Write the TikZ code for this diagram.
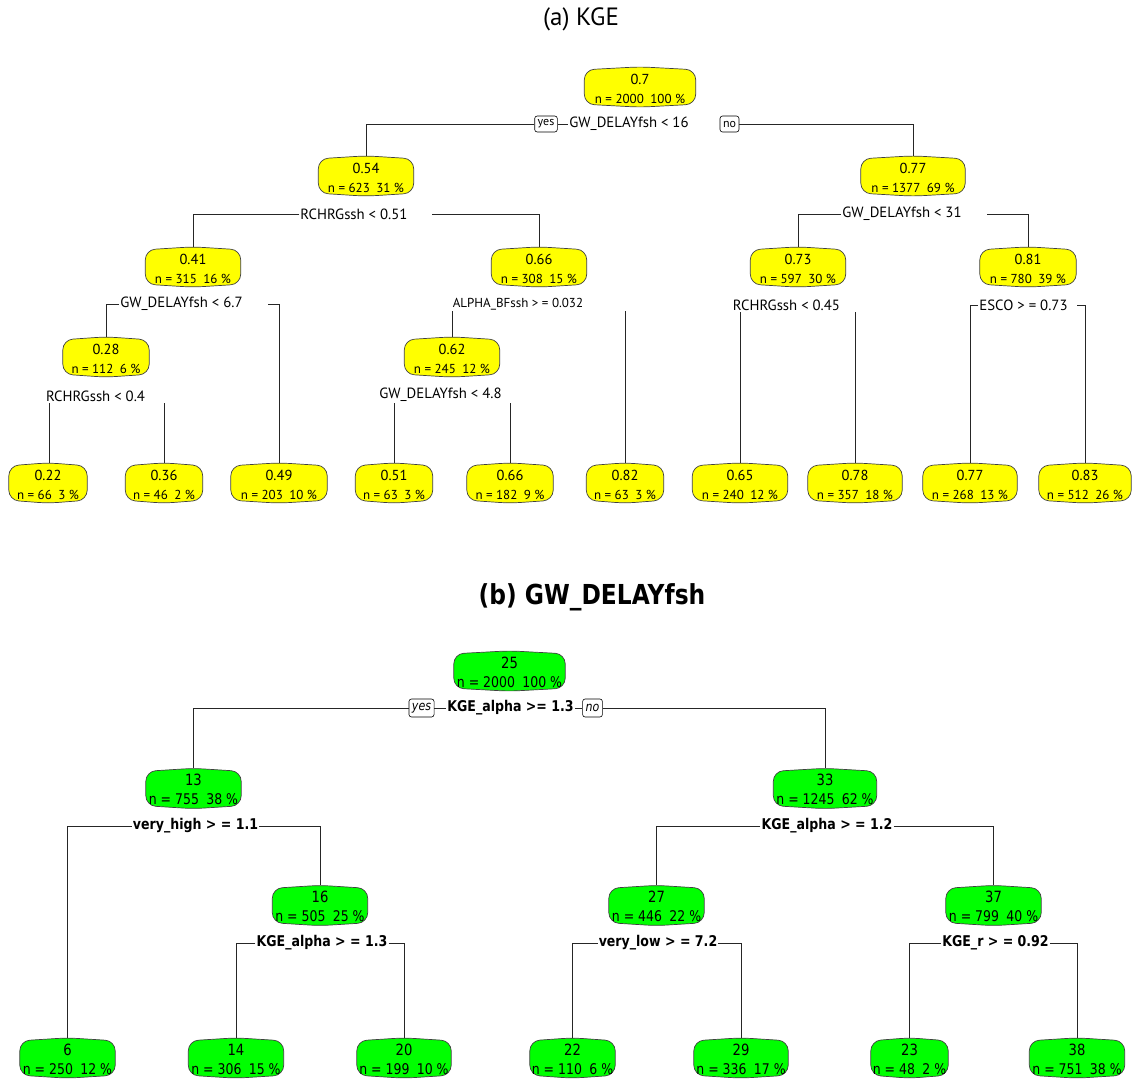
\documentclass[tikz,border=0pt]{standalone}
\usepackage{fontspec}
\usetikzlibrary{calc}
\newfontfamily\topfont{PT Sans}
\newfontfamily\botfont[FakeStretch=0.85]{DejaVu Sans}
\definecolor{ybg}{RGB}{255,255,0}
\definecolor{gbg}{RGB}{0,255,0}
\newcommand\nodetxt[2]{{\fontsize{14.5}{16}\selectfont\rule{0pt}{14pt}#1}\\[5pt]#2}
\newcommand\gnodetxt[2]{{\fontsize{15.5}{17}\selectfont\rule{0pt}{14pt}#1}\\[3pt]#2}
\pgfdeclarelayer{bg}
\pgfsetlayers{bg,main}
\begin{document}
\begin{tikzpicture}[x=1pt,y=-1pt,
  ybox/.style={minimum height=40pt, inner sep=0pt, align=center, font=\topfont\fontsize{13}{14}\selectfont},
  gbox/.style={minimum height=40pt, inner sep=0pt, align=center, font=\botfont\fontsize{14.7}{16}\selectfont},
  barrel/.style={draw=black!75, line width=0.7pt, rounded corners=10pt},
  slab/.style={font=\topfont\fontsize{14.8}{16}\selectfont, inner sep=1pt},
  sslab/.style={font=\topfont\fontsize{13}{14}\selectfont, inner sep=1pt},
  blab/.style={font=\botfont\bfseries\fontsize{14.8}{16}\selectfont, inner sep=1pt},
  yn/.style={draw, fill=white, rounded corners=2.5pt, line width=0.6pt, inner xsep=3pt, inner ysep=1.5pt, minimum height=16pt, font=\topfont\fontsize{12}{13}\selectfont},
  byn/.style={draw, fill=white, rounded corners=2.5pt, line width=0.6pt, inner xsep=3pt, inner ysep=1.5pt, minimum height=18pt, font=\botfont\itshape\fontsize{13}{14}\selectfont},
  edge/.style={draw=black!85, line width=0.75pt}]
\useasboundingbox (0,0) rectangle (1132,1079);

% ---------- (a) KGE ----------
\node (ta) at (581,19) {\topfont\fontsize{25}{28}\selectfont (a) KGE};

\node[ybox, minimum width=111pt] (a0) at (640,87) {\nodetxt{0.7}{n = 2000\enspace 100 \%}};
\node[ybox, minimum width=95pt] (a1) at (366,176) {\nodetxt{0.54}{n = 623\enspace 31 \%}};
\node[ybox, minimum width=104pt] (a2) at (913,176) {\nodetxt{0.77}{n = 1377\enspace 69 \%}};
\node[ybox, minimum width=95pt] (a3) at (193,267) {\nodetxt{0.41}{n = 315\enspace 16 \%}};
\node[ybox, minimum width=95pt] (a4) at (539,267) {\nodetxt{0.66}{n = 308\enspace 15 \%}};
\node[ybox, minimum width=95pt] (a5) at (798,267) {\nodetxt{0.73}{n = 597\enspace 30 \%}};
\node[ybox, minimum width=96pt] (a6) at (1028,267) {\nodetxt{0.81}{n = 780\enspace 39 \%}};
\node[ybox, minimum width=86pt] (a7) at (106,357) {\nodetxt{0.28}{n = 112\enspace 6 \%}};
\node[ybox, minimum width=95pt] (a8) at (452,357) {\nodetxt{0.62}{n = 245\enspace 12 \%}};

\node[ybox, minimum width=78pt] (l1) at (48,483) {\nodetxt{0.22}{n = 66\enspace 3 \%}};
\node[ybox, minimum width=77pt] (l2) at (164,483) {\nodetxt{0.36}{n = 46\enspace 2 \%}};
\node[ybox, minimum width=96pt] (l3) at (279,483) {\nodetxt{0.49}{n = 203\enspace 10 \%}};
\node[ybox, minimum width=77pt] (l4) at (394,483) {\nodetxt{0.51}{n = 63\enspace 3 \%}};
\node[ybox, minimum width=86pt] (l5) at (510,483) {\nodetxt{0.66}{n = 182\enspace 9 \%}};
\node[ybox, minimum width=77pt] (l6) at (625,483) {\nodetxt{0.82}{n = 63\enspace 3 \%}};
\node[ybox, minimum width=95pt] (l7) at (740,483) {\nodetxt{0.65}{n = 240\enspace 12 \%}};
\node[ybox, minimum width=94pt] (l8) at (855,483) {\nodetxt{0.78}{n = 357\enspace 18 \%}};
\node[ybox, minimum width=94pt] (l9) at (970,483) {\nodetxt{0.77}{n = 268\enspace 13 \%}};
\node[ybox, minimum width=92pt] (l10) at (1085,483) {\nodetxt{0.83}{n = 512\enspace 26 \%}};

\begin{pgfonlayer}{bg}
\foreach \X in {a0,a1,a2,a3,a4,a5,a6,a7,a8,l1,l2,l3,l4,l5,l6,l7,l8,l9,l10}{
  \path[barrel, fill=ybg] ($(\X.north west)+(0,3)$) -- (\X.north) -- ($(\X.north east)+(0,3)$) -- ($(\X.south east)+(0,-3)$) -- (\X.south) -- ($(\X.south west)+(0,-3)$) -- cycle;
}
\end{pgfonlayer}

% split labels
\node[slab] (as0) at (629,124) {GW\_DELAYfsh < 16};
\node[yn] (ayes) at (546,124) {yes};
\node[yn] (ano) at (729.5,124) {no};
\node[slab] (as1) at (354,214) {RCHRGssh < 0.51};
\coordinate (as1r) at (432,214);
\node[slab] (as2) at (902,214) {GW\_DELAYfsh < 31};
\coordinate (as2r) at (987,214);
\node[slab] (as3) at (181.5,304) {GW\_DELAYfsh < 6.7};
\coordinate (as3r) at (268,304);
\node[sslab] (as4) at (518,304) {ALPHA\_BFssh > = 0.032};
\node[slab] (as5) at (786.5,305) {RCHRGssh < 0.45};
\node[slab] (as6) at (1023.5,305) {ESCO > = 0.73};
\coordinate (as6r) at (1077,305);
\node[slab] (as7) at (95.5,396) {RCHRGssh < 0.4};
\node[slab] (as8) at (440.5,395) {GW\_DELAYfsh < 4.8};

% connectors
\draw[edge] (ayes.west) -| (a1.north);
\draw[edge] (ayes.east) -- (as0.west);
\draw[edge] (ano.east) -| (a2.north);
\draw[edge] (as1.west) -| (a3.north);
\draw[edge] (as1r) -| (a4.north);
\draw[edge] (as2.west) -| (a5.north);
\draw[edge] (as2r) -| (a6.north);
\draw[edge] (as3.west) -| (a7.north);
\draw[edge] (as3r) -| (l3.north);
\draw[edge] (a8.north) -- (a8.north |- as4.south);
\draw[edge] (l6.north) -- (l6.north |- as4.south);
\draw[edge] (l7.north) -- (l7.north |- as5.south);
\draw[edge] (l8.north) -- (l8.north |- as5.south);
\draw[edge] (as6.west) -| (l9.north);
\draw[edge] (as6r) -| (l10.north);
\draw[edge] ([xshift=1pt]l1.north) -- ([xshift=1pt]l1.north |- as7.south);
\draw[edge] (l2.north) -- (l2.north |- as7.south);
\draw[edge] (l4.north) -- (l4.north |- as8.south);
\draw[edge] (l5.north) -- (l5.north |- as8.south);

% ---------- (b) GW_DELAYfsh ----------
\node (tb) at (592,597) {\botfont\bfseries\fontsize{27.5}{30}\selectfont (b) GW\_DELAYfsh};

\node[gbox, minimum width=111pt] (b0) at (509.5,671) {\gnodetxt{25}{n = 2000\enspace 100 \%}};
\node[gbox, minimum width=95pt] (b1) at (193.5,788.5) {\gnodetxt{13}{n = 755\enspace 38 \%}};
\node[gbox, minimum width=103pt] (b2) at (825,788.5) {\gnodetxt{33}{n = 1245\enspace 62 \%}};
\node[gbox, minimum width=95pt] (b3) at (320,905.5) {\gnodetxt{16}{n = 505\enspace 25 \%}};
\node[gbox, minimum width=95pt] (b4) at (656.5,905.5) {\gnodetxt{27}{n = 446\enspace 22 \%}};
\node[gbox, minimum width=95pt] (b5) at (993.5,905.5) {\gnodetxt{37}{n = 799\enspace 40 \%}};

\node[gbox, minimum width=95pt] (m1) at (67.5,1058) {\gnodetxt{6}{n = 250\enspace 12 \%}};
\node[gbox, minimum width=95pt] (m2) at (236,1058) {\gnodetxt{14}{n = 306\enspace 15 \%}};
\node[gbox, minimum width=94pt] (m3) at (404,1058) {\gnodetxt{20}{n = 199\enspace 10 \%}};
\node[gbox, minimum width=85pt] (m4) at (572.5,1058) {\gnodetxt{22}{n = 110\enspace 6 \%}};
\node[gbox, minimum width=94pt] (m5) at (741,1058) {\gnodetxt{29}{n = 336\enspace 17 \%}};
\node[gbox, minimum width=77pt] (m6) at (909.5,1058) {\gnodetxt{23}{n = 48\enspace 2 \%}};
\node[gbox, minimum width=95pt] (m7) at (1077,1058) {\gnodetxt{38}{n = 751\enspace 38 \%}};

\begin{pgfonlayer}{bg}
\foreach \X in {b0,b1,b2,b3,b4,b5,m1,m2,m3,m4,m5,m6,m7}{
  \path[barrel, fill=gbg] ($(\X.north west)+(0,3)$) -- (\X.north) -- ($(\X.north east)+(0,3)$) -- ($(\X.south east)+(0,-3)$) -- (\X.south) -- ($(\X.south west)+(0,-3)$) -- cycle;
}
\end{pgfonlayer}

\node[blab] (bs0) at (510.5,708) {KGE\_alpha >= 1.3};
\node[byn] (byes) at (421.5,708) {yes};
\node[byn] (bno) at (592.5,708) {no};
\node[blab] (bs1) at (195.5,826) {very\_high > = 1.1};
\node[blab] (bs2) at (827,826) {KGE\_alpha > = 1.2};
\node[blab] (bs3) at (322,943) {KGE\_alpha > = 1.3};
\node[blab] (bs4) at (658,943) {very\_low > = 7.2};
\node[blab] (bs5) at (995.5,943) {KGE\_r > = 0.92};

\draw[edge] (byes.west) -| (b1.north);
\draw[edge] (byes.east) -- (bs0.west);
\draw[edge] (bs0.east) -- (bno.west);
\draw[edge] (bno.east) -| (b2.north);
\draw[edge] (bs1.west) -| (m1.north);
\draw[edge] (bs1.east) -| (b3.north);
\draw[edge] (bs2.west) -| (b4.north);
\draw[edge] (bs2.east) -| (b5.north);
\draw[edge] (bs3.west) -| (m2.north);
\draw[edge] (bs3.east) -| (m3.north);
\draw[edge] (bs4.west) -| (m4.north);
\draw[edge] (bs4.east) -| (m5.north);
\draw[edge] (bs5.west) -| (m6.north);
\draw[edge] (bs5.east) -| (m7.north);
\end{tikzpicture}
\end{document}
